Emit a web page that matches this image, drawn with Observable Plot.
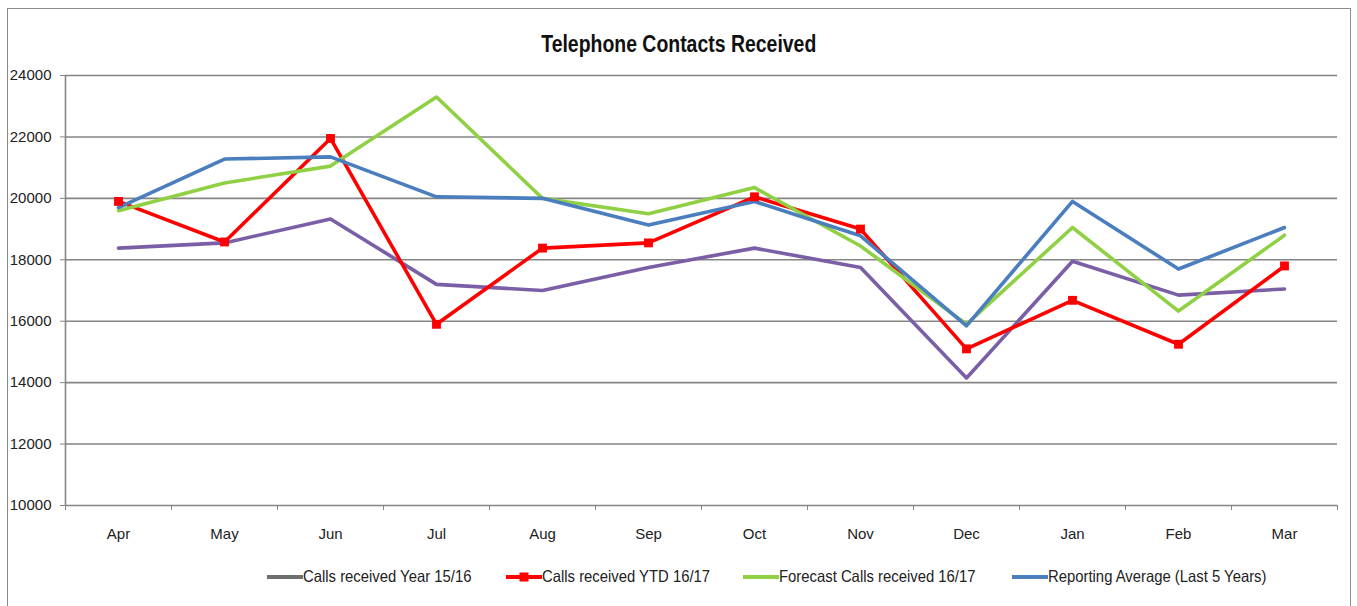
<!DOCTYPE html>
<html>
<head>
<meta charset="utf-8">
<script src="https://cdn.jsdelivr.net/npm/d3@7"></script>
<script src="https://cdn.jsdelivr.net/npm/@observablehq/plot@0.6"></script>
<style>
  html, body { margin: 0; padding: 0; background: #fff; }
  body { width: 1357px; height: 606px; position: relative; overflow: hidden;
         font-family: "Liberation Sans", Arial, sans-serif; }
  #frame { position: absolute; left: 7px; top: 8px; width: 1344px; height: 620px;
           border: 1.5px solid #8c8c8c; box-sizing: border-box; }
  #title { position: absolute; left: 0; width: 1357px; top: 31px; text-align: center;
           font-size: 23px; font-weight: bold; color: #111; }
  #title span { display: inline-block; transform: scaleX(0.845); transform-origin: center; }
  #chart { position: absolute; left: 0; top: 0; }
  .leg { position: absolute; top: 567px; display: flex; align-items: center;
         font-size: 16.5px; color: #222; white-space: nowrap; }
  .leg span { display: inline-block; transform: scaleX(0.9); transform-origin: left center; }
  .leg svg { margin-right: 0px; }
</style>
</head>
<body>
<div id="frame"></div>
<div id="title"><span>Telephone Contacts Received</span></div>
<div id="chart"></div>
<div id="legend"></div>
<script>
// ---- data ----
const months = ["Apr", "May", "Jun", "Jul", "Aug", "Sep", "Oct", "Nov", "Dec", "Jan", "Feb", "Mar"];
const seriesNames = [
  "Calls received Year 15/16",
  "Calls received YTD 16/17",
  "Forecast Calls received 16/17",
  "Reporting Average (Last 5 Years)"
];
const calls1516 = [18380, 18550, 19330, 17200, 17000, 17750, 18380, 17750, 14150, 17950, 16850, 17050];
const ytd1617 = [19900, 18580, 21950, 15900, 18380, 18550, 20050, 19000, 15100, 16680, 15250, 17800];
const forecast1617 = [19600, 20500, 21050, 23300, 20000, 19500, 20350, 18450, 15900, 19050, 16330, 18800];
const reportingAvg = [19700, 21280, 21350, 20050, 20000, 19130, 19900, 18780, 15850, 19900, 17700, 19050];
const yTicks = [10000, 12000, 14000, 16000, 18000, 20000, 22000, 24000];
const seriesColors = ["#7a5fa6", "#ff0000", "#8fd044", "#4a7ebf"];

// ---- table ----
const allSeries = [calls1516, ytd1617, forecast1617, reportingAvg];
const rows = [];
allSeries.forEach((vals, s) => vals.forEach((v, i) => rows.push({series: seriesNames[s], pos: i + 0.5, month: months[i], value: v})));
const redRows = rows.filter(d => d.series === seriesNames[1]);
const boundaries = d3.range(months.length + 1);
const centers = months.map((m, i) => i + 0.5);

const fontFam = '"Liberation Sans", Arial, sans-serif';

const chart = Plot.plot({
  width: 1357,
  height: 560,
  marginLeft: 65,
  marginRight: 20,
  marginTop: 75,
  marginBottom: 55,
  style: {fontFamily: fontFam, fontSize: "15px", color: "#222", background: "transparent"},
  x: {type: "linear", domain: [0, months.length], label: null},
  y: {domain: [10000, 24000], label: null},
  color: {domain: seriesNames, range: seriesColors},
  marks: [
    Plot.gridY(yTicks, {stroke: "#858585", strokeOpacity: 1, strokeWidth: 1.6}),
    Plot.ruleX([0], {stroke: "#858585", strokeWidth: 1.6}),
    Plot.axisY(yTicks, {tickSize: 5, tickPadding: 9, tickFormat: d => String(d), stroke: "#858585", fontSize: 15, label: null}),
    Plot.axisX(boundaries, {tickSize: 5, tickFormat: () => "", stroke: "#858585", label: null}),
    Plot.axisX(centers, {tickSize: 0, tickPadding: 23, tickFormat: d => months[Math.round(d - 0.5)], fontSize: 15, label: null}),
    Plot.lineY(rows, {x: "pos", y: "value", z: "series", stroke: "series", strokeWidth: 3.6, curve: "linear"}),
    Plot.dot(redRows, {x: "pos", y: "value", symbol: "square", r: 5, fill: seriesColors[1], stroke: "none"})
  ]
});
document.getElementById("chart").appendChild(chart);

// ---- legend ----
const legLefts = [267, 506, 743, 1012];
const legend = document.getElementById("legend");
seriesNames.forEach((name, i) => {
  const item = document.createElement("div");
  item.className = "leg";
  item.style.left = legLefts[i] + "px";
  const sw = d3.create("svg").attr("width", 36).attr("height", 12);
  sw.append("line").attr("x1", 0).attr("x2", 36).attr("y1", 6).attr("y2", 6)
    .attr("stroke", i === 0 ? "#6f6f6f" : seriesColors[i]).attr("stroke-width", 4);
  if (i === 1) sw.append("rect").attr("x", 13.5).attr("y", 1.5).attr("width", 9).attr("height", 9).attr("fill", seriesColors[1]);
  item.appendChild(sw.node());
  const t = document.createElement("span");
  t.textContent = name;
  item.appendChild(t);
  legend.appendChild(item);
});
</script>
</body>
</html>
